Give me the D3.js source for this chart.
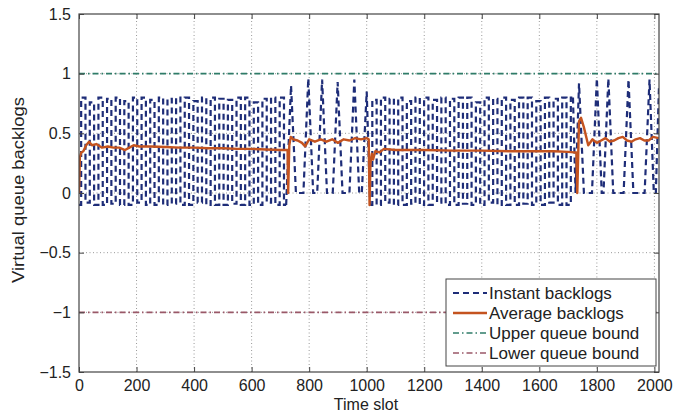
<!DOCTYPE html>
<html>
<head>
<meta charset="utf-8">
<script src="https://cdn.jsdelivr.net/npm/d3@7"></script>
<style>
  body { margin: 0; background: #fff; }
  svg text { font-family: "Liberation Sans", Arial, Helvetica, sans-serif; fill: #222; }
</style>
</head>
<body>
<svg id="chart" width="689" height="415"></svg>
<script>
// ---- data ----
var xTicks = [0, 200, 400, 600, 800, 1000, 1200, 1400, 1600, 1800, 2000];
var yTicks = [-1.5, -1, -0.5, 0, 0.5, 1, 1.5];

// instant backlogs, in four pieces: fast switching, slow, fast, slow
var denseAT = [0,15,30,45,60,75,90,105,120,135,150,165,180,195,210,225,240,255,270,285,300,315,330,345,
  360,375,390,405,420,435,450,465,480,495,510,525,540,555,570,585,600,615,630,645,660,675,690,705,720];
var denseAV = [-0.1,0.8,-0.08,0.76,-0.1,0.8,-0.1,0.79,-0.09,0.8,-0.1,0.77,-0.1,0.8,-0.08,0.8,-0.1,0.78,-0.1,0.8,-0.1,0.79,-0.09,0.8,
  -0.1,0.8,-0.1,0.77,-0.08,0.8,-0.1,0.8,-0.1,0.79,-0.1,0.78,-0.09,0.8,-0.1,0.8,-0.1,0.76,-0.1,0.79,-0.08,0.8,-0.1,0.8,-0.1];

var sparseAT = [720,737,754,780,797,814,828,845,862,882,899,916,940,957,974,983,1000,1012];
var sparseAV = [-0.1,0.9,0.0,0.0,0.96,0.0,0.0,0.95,0.0,0.0,0.93,0.0,0.0,0.95,0.0,0.0,0.85,-0.1];

var denseBT = [1012,1027,1042,1057,1072,1087,1102,1117,1132,1147,1162,1177,1192,1207,1222,1237,1252,1267,1282,1297,1312,1327,
  1342,1357,1372,1387,1402,1417,1432,1447,1462,1477,1492,1507,1522,1537,1552,1567,1582,1597,1612,1627,1642,1657,1672,1687,1702,1717];
var denseBV = [-0.1,0.78,-0.1,0.8,-0.08,0.79,-0.1,0.8,-0.1,0.77,-0.09,0.8,-0.1,0.8,-0.1,0.78,-0.08,0.8,-0.1,0.79,-0.1,0.8,
  -0.09,0.8,-0.1,0.76,-0.1,0.8,-0.08,0.79,-0.1,0.8,-0.1,0.78,-0.1,0.8,-0.09,0.8,-0.1,0.77,-0.1,0.8,-0.08,0.79,-0.1,0.8,-0.1,0.8];

var sparseBT = [1717,1726,1738,1755,1783,1800,1817,1823,1840,1857,1893,1910,1927,1966,1983,1998,2005,2016];
var sparseBV = [0.8,0.0,0.92,0.0,0.0,0.96,0.0,0.0,0.96,0.0,0.0,0.95,0.0,0.0,0.95,0.0,0.0,0.9];

// average backlogs (solid)
var avgT = [0,3,8,15,25,35,45,60,80,100,120,140,160,175,190,210,250,300,350,400,450,500,550,600,650,700,720,725,
  727,731,736,745,760,775,786,800,820,840,860,880,900,920,940,960,980,1000,1007,1010,
  1013,1018,1022,1030,1045,1060,1100,1200,1300,1400,1500,1600,1650,1700,1720,1729,
  1732,1738,1745,1755,1770,1785,1800,1815,1830,1845,1860,1875,1890,1905,1920,1935,1950,1965,1980,1995,2015];
var avgV = [0,0.3,0.34,0.35,0.4,0.43,0.4,0.41,0.38,0.39,0.38,0.38,0.36,0.38,0.4,0.39,0.39,0.385,0.38,0.38,0.375,0.375,0.37,0.37,0.365,0.36,0.36,0.36,
  0.0,0.4,0.47,0.45,0.44,0.42,0.39,0.45,0.43,0.45,0.43,0.45,0.42,0.45,0.44,0.46,0.45,0.46,0.45,-0.1,
  0.25,0.33,0.28,0.35,0.34,0.37,0.36,0.36,0.355,0.355,0.35,0.35,0.35,0.345,0.34,0.34,
  0.0,0.6,0.63,0.55,0.4,0.45,0.42,0.44,0.46,0.43,0.44,0.46,0.47,0.44,0.43,0.45,0.46,0.44,0.44,0.47,0.46];

var upperBound = 1, lowerBound = -1;

var legendLabels = ["Instant backlogs", "Average backlogs", "Upper queue bound", "Lower queue bound"];

// ---- layout ----
var svg = d3.select("#chart");
var margin = {left: 79, top: 14, right: 30, bottom: 43};
var W = 689 - margin.left - margin.right;
var H = 415 - margin.top - margin.bottom;

var x = d3.scaleLinear().domain([0, 2016]).range([0, W]);
var y = d3.scaleLinear().domain([-1.5, 1.5]).range([H, 0]);

var g = svg.append("g").attr("transform", "translate(" + margin.left + "," + margin.top + ")");

svg.append("defs").append("clipPath").attr("id", "clip")
  .append("rect").attr("width", W).attr("height", H);

// grid
g.append("g").selectAll("line").data(xTicks.filter(function(d) { return d > 0; }))
  .enter().append("line")
  .attr("x1", function(d) { return x(d); }).attr("x2", function(d) { return x(d); })
  .attr("y1", 0).attr("y2", H)
  .attr("stroke", "#999").attr("stroke-width", 1).attr("stroke-dasharray", "1,2.5");
g.append("g").selectAll("line").data(yTicks.filter(function(d) { return d > -1.5 && d < 1.5; }))
  .enter().append("line")
  .attr("x1", 0).attr("x2", W)
  .attr("y1", function(d) { return y(d); }).attr("y2", function(d) { return y(d); })
  .attr("stroke", "#999").attr("stroke-width", 1).attr("stroke-dasharray", "1,2.5");

var plot = g.append("g").attr("clip-path", "url(#clip)");

// bounds
var colors = {inst: "#1e2d78", avg: "#c4531f", up: "#2f7c68", low: "#9a5868"};
plot.append("line").attr("x1", x(0)).attr("x2", x(2016))
  .attr("y1", y(upperBound)).attr("y2", y(upperBound))
  .attr("stroke", colors.up).attr("stroke-width", 1.6).attr("stroke-dasharray", "6,3,1.5,3");
plot.append("line").attr("x1", x(0)).attr("x2", x(2016))
  .attr("y1", y(lowerBound)).attr("y2", y(lowerBound))
  .attr("stroke", colors.low).attr("stroke-width", 1.6).attr("stroke-dasharray", "6,3,1.5,3");

var line = d3.line()
  .x(function(d) { return x(d[0]); })
  .y(function(d) { return y(d[1]); });
var stepLine = d3.line()
  .x(function(d) { return x(d[0]); })
  .y(function(d) { return y(d[1]); })
  .curve(d3.curveStep);

var pieces = [
  {pts: d3.zip(denseAT, denseAV), gen: stepLine},
  {pts: d3.zip(sparseAT, sparseAV), gen: line},
  {pts: d3.zip(denseBT, denseBV), gen: stepLine},
  {pts: d3.zip(sparseBT, sparseBV), gen: line}
];
pieces.forEach(function(p) {
  plot.append("path").datum(p.pts)
    .attr("d", p.gen).attr("fill", "none")
    .attr("stroke", colors.inst).attr("stroke-width", 2.2)
    .attr("stroke-dasharray", "6,4");
});

plot.append("path").datum(d3.zip(avgT, avgV))
  .attr("d", line).attr("fill", "none")
  .attr("stroke", colors.avg).attr("stroke-width", 2.4)
  .attr("stroke-linejoin", "round");

// axes, matlab style: box with inward ticks on all sides
var axisColor = "#444";
var xb = g.append("g").attr("transform", "translate(0," + H + ")")
  .call(d3.axisBottom(x).tickValues(xTicks).tickSizeInner(-5).tickSizeOuter(0).tickPadding(8).tickFormat(d3.format("d")));
var xt = g.append("g")
  .call(d3.axisTop(x).tickValues(xTicks).tickSizeInner(-5).tickSizeOuter(0).tickFormat(""));
var yl = g.append("g")
  .call(d3.axisLeft(y).tickValues(yTicks).tickSizeInner(-5).tickSizeOuter(0).tickPadding(8)
    .tickFormat(function(d) { return String(d).replace("-", "\u2212"); }));
var yr = g.append("g").attr("transform", "translate(" + W + ",0)")
  .call(d3.axisRight(y).tickValues(yTicks).tickSizeInner(-5).tickSizeOuter(0).tickFormat(""));

[xb, xt, yl, yr].forEach(function(a) {
  a.select(".domain").remove();
  a.selectAll(".tick line").attr("stroke", axisColor);
  a.selectAll("text").attr("font-size", 16).attr("fill", "#222")
    .style("font-family", "'Liberation Sans', Arial, sans-serif");
});

g.append("rect").attr("width", W).attr("height", H)
  .attr("fill", "none").attr("stroke", axisColor).attr("stroke-width", 1.2);

// labels
svg.append("text").attr("x", 366).attr("y", 410)
  .attr("text-anchor", "middle").attr("font-size", 16).text("Time slot");
svg.append("text").attr("transform", "translate(24,190) rotate(-90)")
  .attr("text-anchor", "middle").attr("font-size", 16)
  .attr("textLength", 186).attr("lengthAdjust", "spacingAndGlyphs")
  .text("Virtual queue backlogs");

// legend
var lg = svg.append("g").attr("transform", "translate(446,279)");
lg.append("rect").attr("width", 210).attr("height", 87)
  .attr("fill", "#fff").attr("stroke", axisColor).attr("stroke-width", 1);
var legStyles = [
  {c: colors.inst, w: 2.2, dash: "6,4"},
  {c: colors.avg, w: 2.4, dash: null},
  {c: colors.up, w: 1.6, dash: "6,3,1.5,3"},
  {c: colors.low, w: 1.6, dash: "6,3,1.5,3"}
];
var rows = lg.selectAll("g.row").data(legendLabels).enter().append("g")
  .attr("class", "row")
  .attr("transform", function(d, i) { return "translate(0," + (14 + i * 20) + ")"; });
rows.append("line").attr("x1", 7).attr("x2", 41).attr("y1", 0).attr("y2", 0)
  .attr("stroke", function(d, i) { return legStyles[i].c; })
  .attr("stroke-width", function(d, i) { return legStyles[i].w; })
  .attr("stroke-dasharray", function(d, i) { return legStyles[i].dash; });
rows.append("text").attr("x", 43).attr("y", 0).attr("dy", "0.35em")
  .attr("font-size", 17).text(function(d) { return d; });
</script>
</body>
</html>
